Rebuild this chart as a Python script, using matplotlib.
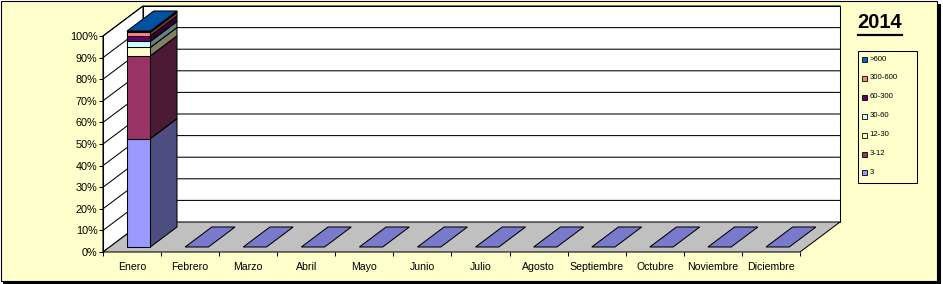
import matplotlib
matplotlib.use("Agg")
import matplotlib.pyplot as plt
from matplotlib.patches import Polygon, Rectangle
from matplotlib.lines import Line2D
from matplotlib.colors import to_rgb

# ---- data (percent of each month, 100% stacked) ----
months = ['Enero', 'Febrero', 'Marzo', 'Abril', 'Mayo', 'Junio', 'Julio',
          'Agosto', 'Septiembre', 'Octubre', 'Noviembre', 'Diciembre']
series = ['3', '3-12', '12-30', '30-60', '60-300', '300-600', '>600']
v_3       = [50.2, 0, 0, 0, 0, 0, 0, 0, 0, 0, 0, 0]
v_3_12    = [38.3, 0, 0, 0, 0, 0, 0, 0, 0, 0, 0, 0]
v_12_30   = [3.9, 0, 0, 0, 0, 0, 0, 0, 0, 0, 0, 0]
v_30_60   = [2.8, 0, 0, 0, 0, 0, 0, 0, 0, 0, 0, 0]
v_60_300  = [2.6, 0, 0, 0, 0, 0, 0, 0, 0, 0, 0, 0]
v_300_600 = [1.6, 0, 0, 0, 0, 0, 0, 0, 0, 0, 0, 0]
v_600     = [0.6, 0, 0, 0, 0, 0, 0, 0, 0, 0, 0, 0]
values = [v_3, v_3_12, v_12_30, v_30_60, v_60_300, v_300_600, v_600]
colors = ['#9999FF', '#993366', '#FFFFCC', '#CCFFFF', '#660066', '#FF8080', '#0066CC']
title = '2014'

W, H = 943, 284
plt.rcParams['font.family'] = ['Liberation Sans', 'DejaVu Sans']
fig = plt.figure(figsize=(W / 100, H / 100), dpi=100)
fig.patch.set_facecolor('white')

def px(x, y):
    # pixel (from top-left) -> figure fraction
    return x / W, 1 - y / H

# chart area frame with shadow
fig.patches.append(Rectangle((3 / W, 0), 938 / W, 280 / H, transform=fig.transFigure,
                             fc='black', ec='none', zorder=-2))
fig.patches.append(Rectangle((0.5 / W, 3 / H), 936.5 / W, 280.5 / H, transform=fig.transFigure,
                             fc='#FFFFCC', ec='black', lw=0.8, zorder=-1))

# front plane of the plot
L, R, T, B = 103, 800, 36, 252
ax = fig.add_axes([L / W, 1 - B / H, (R - L) / W, (B - T) / H])
ax.set_zorder(1)
ax.set_facecolor('none')
n = len(months)
ax.set_xlim(0, n)
ax.set_ylim(0, 100)
DX = 40 / ((R - L) / n)          # depth offset in category units
DY = 30 / ((B - T) / 100)        # depth offset in percent units
f0, f1 = 1 / 6, 5 / 6            # bar depth range
lw = 0.75

def poly(pts, fc, z):
    ax.add_patch(Polygon(pts, closed=True, fc=fc, ec='black', lw=lw,
                         clip_on=False, zorder=z, joinstyle='miter'))

def shade(c, k):
    r, g, b = to_rgb(c)
    return (r * k, g * k, b * k)

# walls and floor
poly([(0, 0), (0, 100), (DX, 100 + DY), (DX, DY)], 'white', 1)
poly([(DX, DY), (DX, 100 + DY), (n + DX, 100 + DY), (n + DX, DY)], 'white', 1)
for g in range(10, 101, 10):
    ax.plot([0, DX, n + DX], [g, g + DY, g + DY], color='black', lw=lw,
            clip_on=False, zorder=1.5)
poly([(0, 0), (n, 0), (n + DX, DY), (DX, DY)], '#C0C0C0', 2)

# bars
for i in range(n):
    x0 = i + 0.5 - 0.2
    x1 = i + 0.5 + 0.2
    ax0, ay0 = f0 * DX, f0 * DY
    ax1, ay1 = f1 * DX, f1 * DY
    total = sum(v[i] for v in values)
    if total == 0:
        y = 0
        poly([(x0 + ax0, y + ay0), (x1 + ax0, y + ay0), (x1 + ax1, y + ay1),
              (x0 + ax1, y + ay1)], shade(colors[0], 0.8), 3)
        continue
    base = 0
    for s, v in enumerate(values):
        h = v[i] / total * 100
        if h <= 0:
            continue
        top = base + h
        c = colors[s]
        # side
        poly([(x1 + ax0, base + ay0), (x1 + ax1, base + ay1),
              (x1 + ax1, top + ay1), (x1 + ax0, top + ay0)], shade(c, 0.5), 3)
        # front
        poly([(x0 + ax0, base + ay0), (x1 + ax0, base + ay0),
              (x1 + ax0, top + ay0), (x0 + ax0, top + ay0)], c, 3)
        # top
        poly([(x0 + ax0, top + ay0), (x1 + ax0, top + ay0),
              (x1 + ax1, top + ay1), (x0 + ax1, top + ay1)], shade(c, 0.8), 3)
        base = top

# axes, ticks, labels
for sp in ['top', 'right', 'bottom']:
    ax.spines[sp].set_visible(False)
ax.spines['left'].set_linewidth(lw)
ax.spines['left'].set_zorder(4)
ax.set_yticks(range(0, 101, 10))
ax.set_yticklabels([f'{v}%' for v in range(0, 101, 10)])
ax.set_xticks(range(0, n + 1))
ax.set_xticklabels([])
ax.set_xticks([i + 0.5 for i in range(n)], minor=True)
ax.set_xticklabels(months, minor=True)
ax.tick_params(axis='y', length=3, width=lw, pad=1, labelsize=7.8, direction='out')
ax.tick_params(axis='x', which='major', length=3, width=lw, direction='out')
ax.tick_params(axis='x', which='minor', length=0, pad=7, labelsize=7.6)

# title with underline
tx, ty = px(880, 22)
t = fig.text(tx, ty, title, ha='center', va='center', fontsize=14.5, fontweight='bold')
fig.canvas.draw()
bb = t.get_window_extent()
uy = bb.y0 - 3
fig.add_artist(Line2D([bb.x0 / W, bb.x1 / W], [uy / H, uy / H], color='black',
                      lw=1.6, transform=fig.transFigure))

# legend
fig.patches.append(Rectangle(px(858, 183), 59 / W, 132 / H, transform=fig.transFigure,
                             fc='none', ec='black', lw=lw, zorder=2))
for k, s in enumerate(range(len(series) - 1, -1, -1)):
    yy = 59 + 18.9 * k
    fig.patches.append(Rectangle(px(862, yy + 3), 5 / W, 5 / H, transform=fig.transFigure,
                                 fc=colors[s], ec='black', lw=0.6, zorder=3))
    fig.text(*px(869.5, yy), series[s], ha='left', va='center', fontsize=5.6)

fig.savefig('out.png', dpi=100)
